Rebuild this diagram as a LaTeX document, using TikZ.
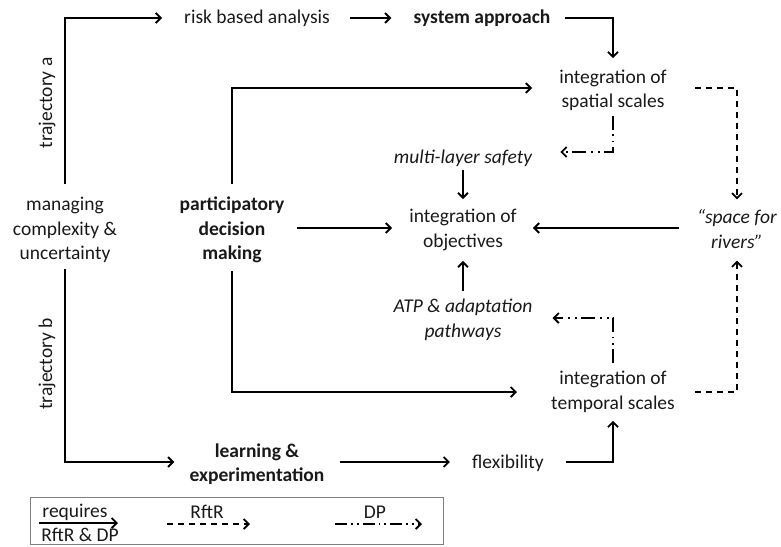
\documentclass[tikz,border=0pt]{standalone}
\usepackage{fontspec}
\setmainfont{Carlito}
\usetikzlibrary{arrows.meta}
\begin{document}
\begin{tikzpicture}[x=1pt,y=-1pt,
  lbl/.style={inner sep=0pt, align=center, text=black!90, font=\fontsize{19.5pt}{24.5pt}\selectfont},
  req/.style={line width=1.9pt, -{Straight Barb[length=5pt,width=10pt,line width=1.9pt]}},
  rft/.style={req, dash pattern=on 6pt off 5pt},
  dp/.style={req, dash pattern=on 14pt off 4pt on 1.8pt off 5pt on 1.8pt off 5pt},
  legbox/.style={draw=gray, line width=1pt, inner sep=0pt, minimum width=413pt, minimum height=47pt}]
\useasboundingbox (0,0) rectangle (781,546);

% nodes
\node[lbl] (risk) at (257,18) {risk based analysis};
\node[lbl] (sys) at (482,18) {\bfseries system approach};
\node[lbl] (spat) at (613,90.5) {integration of\\spatial scales};
\node[lbl] (mls) at (463,158) {\itshape multi-layer safety};
\node[lbl] (obj) at (463,230) {integration of\\objectives};
\node[lbl] (rivers) at (737,229) {\itshape “space for\\\itshape rivers”};
\node[lbl] (atp) at (463,320) {\itshape ATP \& adaptation\\\itshape pathways};
\node[lbl] (temp) at (613,392) {integration of\\temporal scales};
\node[lbl] (part) at (232,230) {\bfseries participatory\\\bfseries decision\\\bfseries making};
\node[lbl] (manag) at (65,230) {managing\\complexity \&\\uncertainty};
\node[lbl] (learn) at (257,464) {\bfseries learning \&\\\bfseries experimentation};
\node[lbl] (flex) at (508,463) {flexibility};
\node[lbl, rotate=90] (traja) at (47,103) {trajectory a};
\node[lbl, rotate=90] (trajb) at (47,364) {trajectory b};

% connectors
\draw[req] ([yshift=12.7pt]manag.north) |- ([xshift=-22pt]risk.west);
\draw[req] ([xshift=20pt]risk.east) -- ([xshift=-22pt]sys.west);
\draw[req] ([xshift=14pt]sys.east) -| ([yshift=11.5pt]spat.north);
\draw[req] ([yshift=12.7pt]part.north) |- ([xshift=-27pt,yshift=2.5pt]spat.west);
\draw[rft] ([xshift=28pt,yshift=2.5pt]spat.east) -| ([yshift=10pt]rivers.north);
\draw[dp] ([yshift=-4.5pt]spat.south) |- ([xshift=28pt,yshift=6pt]mls.east);
\draw[req] ([yshift=-3pt]mls.south) -- ([yshift=10pt]obj.north);
\draw[req] ([xshift=12.5pt,yshift=2pt]part.east) -- ([xshift=-17pt,yshift=2pt]obj.west);
\draw[req] ([xshift=-18.5pt,yshift=1pt]rivers.west) -- ([xshift=16pt,yshift=2pt]obj.east);
\draw[req] ([yshift=8pt]atp.north) -- ([yshift=-10pt]obj.south);
\draw[dp] ([yshift=8pt]temp.north) |- ([xshift=20pt,yshift=2pt]atp.east);
\draw[req] ([yshift=-8pt]part.south) |- ([xshift=-34pt]temp.west);
\draw[rft] ([xshift=20pt]temp.east) -| ([yshift=-12pt]rivers.south);
\draw[req] ([yshift=-6pt]manag.south) |- ([xshift=-15pt,yshift=2pt]learn.west);
\draw[req] ([xshift=15pt,yshift=2pt]learn.east) -- ([xshift=-22pt,yshift=1pt]flex.west);
\draw[req] ([xshift=22pt,yshift=1pt]flex.east) -| ([yshift=-8pt]temp.south);

% legend
\node[legbox] (legend) at (236.5,521) {};
\node[lbl] (lreq) at (75,512) {requires};
\node[lbl] (lrd) at (80,535) {RftR \& DP};
\node[lbl] (lrft) at (207,512) {RftR};
\node[lbl] (ldp) at (375,512) {DP};
\coordinate (a1) at (39,523);
\coordinate (a2) at (118,523);
\coordinate (b1) at (167,524);
\coordinate (b2) at (250,524);
\coordinate (c1) at (335,524);
\coordinate (c2) at (422,524);
\draw[req] (a1) -- (a2);
\draw[rft] (b1) -- (b2);
\draw[dp, dash pattern=on 12pt off 4pt on 1.8pt off 4pt on 1.8pt off 4pt] (c1) -- (c2);
\end{tikzpicture}
\end{document}
